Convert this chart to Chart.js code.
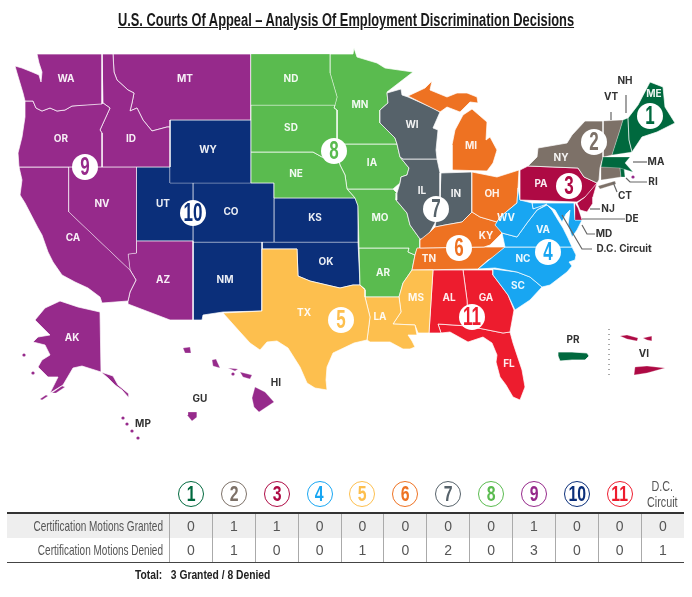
<!DOCTYPE html>
<html>
<head>
<meta charset="utf-8">
<script src="https://cdn.jsdelivr.net/npm/chart.js@4"></script>
<style>
  html, body { margin: 0; padding: 0; background: #fff; }
  #wrap { position: relative; width: 692px; height: 597px; overflow: hidden; }
  canvas { position: absolute; left: 0; top: 0; }
  #title { position: absolute; left: 0; width: 692px; top: 10px; text-align: center; transform: scaleX(0.714);
    font: bold 18px "Liberation Sans", sans-serif; color: #1a1a1a; text-decoration: underline; white-space: nowrap; }
  table { position: absolute; left: 7px; top: 476px; width: 677px; table-layout: fixed; border-collapse: collapse;
    font: 14px "Liberation Sans", sans-serif; color: #555; }
  th { height: 36px; padding: 0; font-weight: normal; line-height: 16px; font-size: 15px; vertical-align: middle; }
  th .narrow { display: inline-block; transform: scaleX(0.72); white-space: nowrap; color: #555; }
  td { height: 24px; padding: 0; text-align: center; border-left: 1px solid #aaa; }
  td:first-child { padding-right: 7px; border-left: none; white-space: nowrap; }
  td .rowname { display: block; width: 200px; margin-left: -44.5px; text-align: right; transform: scaleX(0.69); transform-origin: right center; font-size: 14.5px; }
  tbody tr:first-child td { background: #eee; border-top: 2px solid #333; }
  tbody tr:last-child td { border-bottom: 1px solid #444; }
  .ring { display: block; width: 24px; height: 24px; margin: 0 auto; border: 1.5px solid; border-radius: 50%;
    font: bold 22px/24px "Liberation Sans", sans-serif; text-align: center; }
  .ring span { display: inline-block; transform: scaleX(0.72); }
  #total { position: absolute; left: 135px; top: 568px; font: bold 12.5px "Liberation Sans", sans-serif; color: #222;
    white-space: pre; transform: scaleX(0.823); transform-origin: left center; }
</style>
</head>
<body>
<div id="wrap">
  <canvas id="mapa" width="692" height="597"></canvas>
  <div id="title">U.S. Courts Of Appeal – Analysis Of Employment Discrimination Decisions</div>
  <table id="tabela"></table>
  <div id="total">Total:   3 Granted / 8 Denied</div>
</div>
<script>
// table data
const circuitNames = ['1', '2', '3', '4', '5', '6', '7', '8', '9', '10', '11', 'D.C.<br>Circuit'];
const circuitColors = ['#00693e', '#7d7168', '#ae0a44', '#18a6f2', '#fdbf4e', '#ee7222', '#56626a', '#5abb4f', '#962a8b', '#0b2f7a', '#ed1c2e', '#555'];
const motionsGranted = [0, 1, 1, 0, 0, 0, 0, 0, 1, 0, 0, 0];
const motionsDenied = [0, 1, 0, 0, 1, 0, 2, 0, 3, 0, 0, 1];

// state outlines, in map units
const WA = [[37,54],[102,54],[102,104],[72,106],[65,110],[57,111],[50,108],[42,111],[36,108],[33,101],[25,101],[23,93],[20,83],[17,73],[15,66],[22,68],[32,72],[39,75],[41,82],[42,72],[39,63]];
const OR = [[25,101],[33,101],[36,108],[42,111],[50,108],[57,111],[65,110],[72,106],[103,103],[110,108],[100,130],[102,133],[102,167],[19,167],[18,153],[22,137],[25,117]];
const ID = [[102,54],[113,54],[114,72],[117,80],[128,90],[134,93],[132,103],[130,111],[137,108],[143,120],[152,131],[167,127],[170,127],[170,167],[102,167],[102,133],[100,130],[110,108],[103,103]];
const MT = [[113,54],[251,54],[251,120],[170,120],[170,127],[167,127],[152,131],[143,120],[137,108],[130,111],[132,103],[134,93],[128,90],[117,80],[114,72]];
const NV = [[69,167],[136.5,167],[136.5,253],[128,254],[130,270],[69,212]];
const CA = [[19,167],[69,167],[69,212],[130,270],[136,280],[130,292],[128,301],[102,303],[100,297],[88,288],[75,282],[62,275],[53,262],[48,252],[42,235],[38,228],[25,203],[20,195],[22,180]];
const AZ = [[136.5,253],[136.5,241],[193,241],[193,320],[170,320],[128,304],[128,301],[130,292],[136,280],[130,270],[128,254]];
const WY = [[170,120],[251,120],[251,183],[170,183]];
const UT = [[136.5,167],[170,167],[170,183],[193,183],[193,241],[136.5,241]];
const CO = [[193,183],[274,183],[274,242],[193,242]];
const NM = [[193,242],[262,242],[262,311],[223,312],[203,315],[202,320],[193,320]];
const KS = [[274,198],[355,198],[358,206],[358,242],[274,242]];
const OK = [[262,242],[358,242],[360,285],[353,285],[340,288],[327,285],[310,281],[298,276],[297,249],[262,249]];
const TX = [[262,249],[297,249],[298,276],[310,281],[327,285],[340,288],[353,285],[360,285],[365,290],[365,297],[370,317],[367,340],[354,343],[333,353],[327,367],[326,380],[327,390],[315,388],[307,383],[300,367],[288,348],[277,341],[267,342],[260,350],[250,343],[240,332],[223,313],[262,311]];
const LA = [[365,297],[399,297],[401,312],[393,324],[415,325],[417,335],[408,335],[412,341],[415,347],[410,349],[403,349],[390,342],[370,342],[367,340],[370,317]];
const MS = [[412,270],[433,270],[429,333],[418,333],[415,325],[393,324],[401,312],[399,297],[403,283]];
const ND = [[251,54],[330,54],[330,73],[337,97],[335,105],[251,105]];
const SD = [[251,105],[335,105],[334,108],[337,110],[337,158],[322,157],[313,152],[251,152]];
const NE = [[251,152],[313,152],[322,157],[338,158],[340,165],[345,175],[347,189],[355,198],[274,198],[274,183],[251,183]];
const MN = [[330,54],[353,54],[354,48],[357,57],[377,63],[385,68],[413,72],[387,92],[388,103],[380,110],[380,123],[395,138],[397,144],[337,144],[337,110],[334,108],[337,97],[330,73]];
const IA = [[337,144],[397,144],[400,157],[409,168],[407,175],[401,177],[400,183],[393,189],[347,189],[345,175],[340,165],[338,157]];
const MO = [[347,189],[393,189],[397,193],[396,200],[407,213],[410,225],[420,239],[420,248],[417,249],[415,255],[408,252],[409,248],[359,248],[358,206],[355,198]];
const AR = [[359,248],[409,248],[408,252],[415,255],[412,270],[403,283],[399,297],[365,297],[365,289],[360,285]];
const WI = [[387,93],[401,89],[402,95],[408,97],[433,108],[440,112],[433,128],[438,130],[436,150],[437,159],[403,159],[400,157],[397,144],[395,138],[380,123],[380,110],[388,103]];
const IL = [[403,159],[437,159],[440,173],[440,197],[435,223],[430,232],[425,239],[420,239],[410,225],[407,213],[396,200],[397,193],[400,183],[401,177],[407,175],[409,168],[400,157]];
const IN = [[441,173],[472,172],[472,212],[462,222],[445,225],[435,227],[440,197]];
const OH = [[472,172],[497,177],[519,170],[518,188],[517,203],[500,217],[497,222],[480,217],[472,212]];
const MI_LOWER = [[452,170],[487,171],[493,163],[497,150],[490,137],[486,140],[487,122],[472,109],[463,115],[455,130],[452,145]];
const MI_UPPER = [[408,96],[425,88],[432,81],[430,90],[447,97],[457,93],[467,93],[477,97],[478,103],[470,102],[460,112],[447,107],[440,112]];
const KY = [[420,248],[420,240],[430,232],[435,227],[445,225],[462,222],[472,212],[480,217],[497,222],[502,233],[490,245],[484,247]];
const TN = [[417,248],[484,247],[505,247],[498,255],[488,260],[478,269],[412,270],[415,255]];
const WV = [[518,188],[520,200],[532,203],[533,209],[547,204],[537,210],[527,223],[517,237],[502,233],[495,225],[500,217],[517,203]];
const VA = [[505,247],[572,247],[568,238],[563,228],[558,220],[552,210],[547,205],[537,210],[527,223],[517,237],[502,233]];
const MD = [[532,203],[574,203],[575,220],[582,220],[577,230],[572,237],[568,225],[570,210],[566,214],[562,222],[555,210],[547,205],[533,209]];
const NC = [[478,269],[505,247],[572,247],[576,255],[575,260],[569,262],[572,266],[567,272],[550,285],[542,287],[530,277],[517,272],[495,268]];
const SC = [[493,269],[517,272],[530,277],[542,287],[530,300],[515,310],[508,295],[493,275]];
const GA = [[463,270],[493,270],[493,275],[508,295],[514,310],[510,332],[503,333],[468,326],[467,300]];
const AL = [[433,270],[463,270],[467,300],[468,326],[438,324],[441,333],[429,333]];
const FL = [[441,333],[438,324],[468,326],[503,333],[510,332],[513,343],[522,370],[525,387],[520,400],[513,397],[506,385],[500,377],[496,362],[497,355],[492,343],[483,337],[468,342],[450,332]];
const PA = [[520,170],[528,166],[578,168],[584,177],[597,183],[585,197],[577,202],[520,200]];
const NJ = [[597,183],[593,197],[593,203],[587,212],[580,210],[577,203],[585,197],[584,180]];
const DE = [[575,203],[578,208],[582,220],[575,220]];
const NY = [[528,166],[537,157],[538,148],[567,143],[572,135],[585,121],[603,121],[603,157],[600,168],[599,180],[597,183],[584,177],[578,168]];
const VT = [[603,121],[623,120],[620,130],[612,155],[603,157]];
const CT = [[601,167],[620,167],[621,177],[601,180]];
const LONG_ISLAND = [[598,186],[615,181],[616,184],[600,189]];
const NH = [[623,120],[628,118],[629,140],[632,152],[612,155],[620,130]];
const ME = [[628,118],[638,105],[650,82],[663,87],[665,107],[675,123],[657,132],[642,137],[632,152],[629,140]];
const MA = [[603,157],[630,157],[625,163],[633,172],[620,168],[601,167]];
const RI = [[620,168],[624,168],[625,177],[621,177]];
const AK = [[60,301],[78,307],[100,312],[101,372],[82,366],[73,368],[63,385],[50,393],[58,377],[48,377],[38,367],[42,360],[50,355],[45,345],[33,342],[38,337],[50,335],[35,320],[45,308]];
const AK_PANHANDLE = [[101,372],[113,376],[118,385],[129,394],[129,398],[122,390],[115,385],[108,378]];
const AK_ISLE_A = [[40,399],[46,395],[48,396],[42,400]];
const AK_ISLE_B = [[52,393],[62,386],[65,387],[56,393]];
const HI_BIG = [[255,387],[265,392],[274,402],[259,412],[254,407],[252,398]];
const HI_MAUI = [[240,372],[252,375],[250,379],[243,377]];
const HI_MOLOKAI = [[228,368],[238,369],[235,371]];
const HI_KAUAI = [[183,348],[190,347],[191,353],[185,353]];
const HI_OAHU = [[212,360],[216,359],[220,368],[213,366]];
const GU = [[188,412],[197,412],[197,417],[192,421],[187,415]];
const PR = [[558,352],[572,352],[587,353],[589,356],[585,360],[572,360],[560,361],[558,356]];
const VI_A = [[620,336],[627,335],[638,338],[637,341],[627,339]];
const VI_B = [[643,338],[652,336],[652,341],[647,340]];
const VI_C = [[635,367],[647,366],[665,368],[647,373],[634,375]];

// which shapes belong to each circuit, same order as circuitColors
const circuitShapes = [
  [ME, NH, MA, RI, PR],
  [NY, VT, CT, LONG_ISLAND],
  [PA, NJ, DE, VI_A, VI_B, VI_C],
  [WV, VA, MD, NC, SC],
  [TX, LA, MS],
  [MI_LOWER, MI_UPPER, OH, KY, TN],
  [WI, IL, IN],
  [ND, SD, NE, MN, IA, MO, AR],
  [WA, OR, ID, MT, NV, CA, AZ, AK, AK_PANHANDLE, AK_ISLE_A, AK_ISLE_B, HI_BIG, HI_MAUI, HI_MOLOKAI, HI_KAUAI, HI_OAHU, GU],
  [WY, UT, CO, NM, KS, OK],
  [AL, GA, FL]
];

const islets = [[33,373],[233,374],[123,418],[127,424],[132,431],[138,438],[24,355],[633,177]];

// white circle markers with the circuit number
const discs = [[650,116],[594,142],[569,186],[548,252],[341,320],[459,248],[436,209],[334,151],[85,167],[193,213],[472,317]];

const stateLabels = [['WA',66,79],['MT',185,79],['OR',61,139],['ID',131,139],['WY',208,150],['NV',102,204],['UT',163,204],['CO',231,212],['CA',73,238],['AZ',163,280],['NM',225,280],['ND',291,79],['SD',291,128],['NE',296,174],['MN',360,105],['IA',372,163],['KS',315,218],['MO',380,218],['OK',326,262],['AR',383,273],['TX',304,313],['LA',380,317],['MS',416,298],['AL',449,298],['GA',486,298],['FL',509,364],['TN',429,259],['KY',486,236],['WI',412,125],['MI',471,146],['IL',422,191],['IN',456,194],['OH',492,194],['PA',541,184],['NY',561,158],['ME',654,94],['WV',506,218],['VA',543,230],['NC',523,259],['SC',518,286],['AK',72,338]];
const outsideLabels = [['NH',625,81],['VT',611,97],['MA',656,162],['RI',653,182],['CT',625,196],['NJ',608,209],['DE',632,219],['MD',604,234],['D.C. Circuit',624,249],['PR',573,340],['VI',644,354],['HI',276,383],['GU',200,399],['MP',143,424]];

const leaderLines = [
  [[626,95],[626,113]],
  [[611,112],[611,120]],
  [[633,162],[647,162]],
  [[626,178],[630,182],[647,182]],
  [[613,182],[617,192]],
  [[590,209],[600,209]],
  [[582,219],[625,219]],
  [[582,225],[587,234],[595,234]],
  [[562,215],[582,249],[592,249]]
];
const territoryDivider = [[609,329],[609,377]];

const toPoints = pts => pts.map(p => ({ x: p[0], y: p[1] }));
const datasets = [];

circuitShapes.forEach((shapes, i) => {
  shapes.forEach(shape => {
    datasets.push({
      data: toPoints([...shape, shape[0]]),
      showLine: true,
      fill: 'shape',
      backgroundColor: circuitColors[i],
      borderColor: 'rgba(255,255,255,0.7)',
      borderWidth: shape.length > 6 ? 1 : 0.4,
      pointRadius: 0,
      tension: 0,
      order: 5
    });
  });
});

datasets.push({
  data: toPoints(islets),
  backgroundColor: circuitColors[8],
  pointRadius: 1.6,
  pointBorderWidth: 0,
  order: 4
});

leaderLines.forEach(line => {
  datasets.push({
    data: toPoints(line),
    showLine: true,
    borderColor: '#666',
    borderWidth: 1.2,
    pointRadius: 0,
    tension: 0,
    order: 3
  });
});

datasets.push({
  data: toPoints(territoryDivider),
  showLine: true,
  borderColor: '#555',
  borderWidth: 1,
  borderDash: [1, 4],
  pointRadius: 0,
  order: 3
});

datasets.push({
  data: toPoints(discs),
  pointRadius: 13,
  pointBackgroundColor: '#fff',
  pointBorderWidth: 0,
  order: 1
});

// state names and circuit numbers
const textPlugin = {
  id: 'textos',
  afterDatasetsDraw(chart) {
    const { ctx, scales: { x, y } } = chart;
    ctx.save();
    ctx.textAlign = 'center';
    ctx.textBaseline = 'middle';
    ctx.font = 'bold 10px Inter, sans-serif';
    ctx.fillStyle = 'rgba(255,255,255,0.92)';
    stateLabels.forEach(l => ctx.fillText(l[0], x.getPixelForValue(l[1]), y.getPixelForValue(l[2])));
    ctx.fillStyle = '#333';
    outsideLabels.forEach(l => ctx.fillText(l[0], x.getPixelForValue(l[1]), y.getPixelForValue(l[2])));
    ctx.font = 'bold 25px "Liberation Sans", sans-serif';
    discs.forEach((d, i) => {
      ctx.save();
      ctx.translate(x.getPixelForValue(d[0]), y.getPixelForValue(d[1]) + 1);
      ctx.scale(0.68, 1);
      ctx.fillStyle = circuitColors[i];
      ctx.fillText(circuitNames[i], 0, 0);
      ctx.restore();
    });
    ctx.restore();
  }
};

new Chart(document.getElementById('mapa').getContext('2d'), {
  type: 'scatter',
  data: { datasets },
  plugins: [textPlugin],
  options: {
    responsive: false,
    animation: false,
    layout: { padding: 0, autoPadding: false },
    plugins: { legend: { display: false }, tooltip: { enabled: false }, title: { display: false } },
    scales: {
      x: { type: 'linear', min: 0, max: 692, display: false },
      y: { type: 'linear', min: 0, max: 597, reverse: true, display: false }
    }
  }
});

// table below the map
const rows = [['Certification Motions Granted', motionsGranted], ['Certification Motions Denied', motionsDenied]];
let html = '<colgroup><col style="width:162.5px">' + circuitNames.map(() => '<col>').join('') + '</colgroup><thead><tr><th></th>';
circuitNames.forEach((name, i) => {
  html += i < 11
    ? `<th><span class="ring" style="color:${circuitColors[i]}"><span>${name}</span></span></th>`
    : `<th><span class="narrow">${name}</span></th>`;
});
html += '</tr></thead><tbody>';
rows.forEach(r => {
  html += `<tr><td><span class="rowname">${r[0]}</span></td>` + r[1].map(v => `<td>${v}</td>`).join('') + '</tr>';
});
document.getElementById('tabela').innerHTML = html + '</tbody>';
</script>
</body>
</html>
